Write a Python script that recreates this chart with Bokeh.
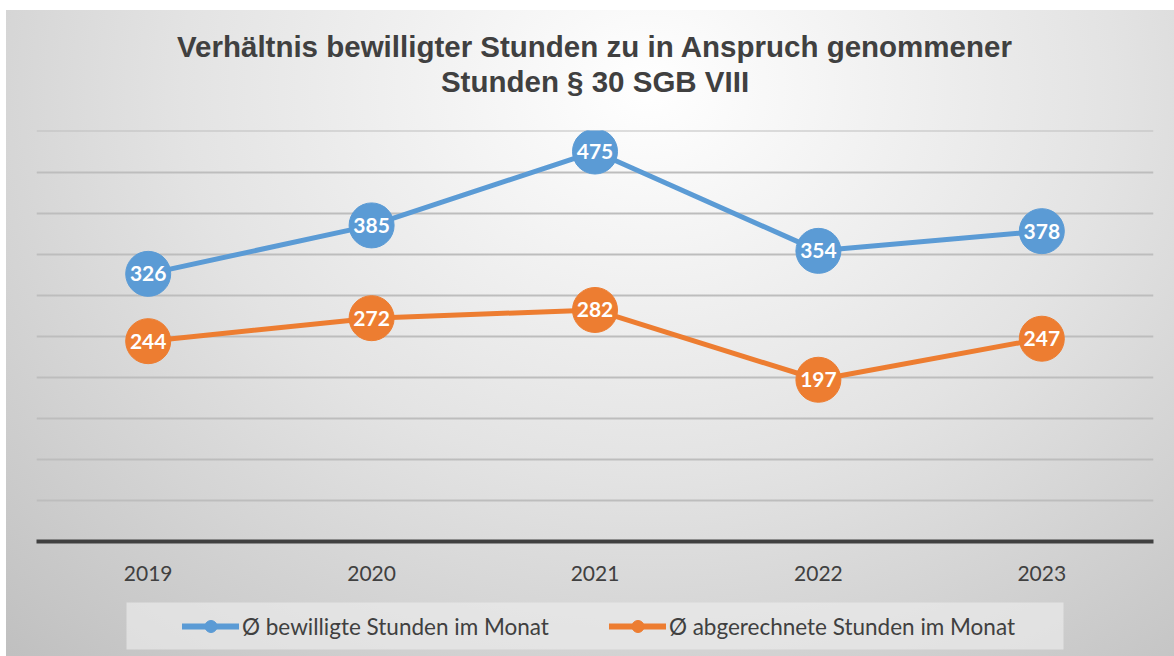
from bokeh.plotting import figure
from bokeh.layouts import column
from bokeh.models import (ColumnDataSource, FactorRange, Title, Legend, LegendItem,
                          SingleIntervalTicker, BoxAnnotation)
from bokeh.core.properties import value
from bokeh.embed import file_html
from bokeh.resources import INLINE

# ---- data ----
years = ["2019", "2020", "2021", "2022", "2023"]
bewilligt = [326, 385, 475, 354, 378]
abgerechnet = [244, 272, 282, 197, 247]
series_names = ["Ø bewilligte Stunden im Monat", "Ø abgerechnete Stunden im Monat"]
title_lines = ["Verhältnis bewilligter Stunden zu in Anspruch genommener", "Stunden § 30 SGB VIII"]

BLUE = "#5B9BD5"
ORANGE = "#ED7D31"
TXT = "#404040"

W = 1174
H1, H2 = 596, 60
L, R, T, B = 36, 21, 130, 55

p = figure(width=W, height=H1, x_range=FactorRange(factors=years, range_padding=0),
           y_range=(0, 500.6), output_backend="svg", toolbar_location=None,
           min_border_left=L, min_border_right=R, min_border_top=T, min_border_bottom=B,
           title=None)
p.background_fill_alpha = 0
p.border_fill_alpha = 0
p.outline_line_color = None

# title: spacer nearest the frame, then line 2, then line 1 on top
tkw = dict(align="center", text_font="Liberation Sans", text_font_size="29.5px",
           text_font_style="bold", text_color=TXT)
p.add_layout(Title(text=" ", text_font_size="10px", standoff=20), "above")
p.add_layout(Title(text=title_lines[1], standoff=0, **tkw), "above")
p.add_layout(Title(text=title_lines[0], standoff=0, **tkw), "above")

# grid / axes
p.yaxis.visible = False
p.ygrid.ticker = SingleIntervalTicker(interval=50)
p.ygrid.grid_line_color = "#bdbdbd"
p.ygrid.grid_line_width = 2
p.xgrid.grid_line_color = None

p.xaxis.axis_line_color = TXT
p.xaxis.axis_line_width = 4
p.xaxis.major_tick_line_color = None
p.xaxis.minor_tick_line_color = None
p.xaxis.major_label_text_font = "Lato"
p.xaxis.major_label_text_font_size = "21px"
p.xaxis.major_label_text_color = TXT
p.xaxis.major_label_standoff = 18

src = ColumnDataSource(dict(x=years, b=bewilligt, a=abgerechnet,
                            bl=[str(v) for v in bewilligt], al=[str(v) for v in abgerechnet]))

p.line("x", "b", source=src, line_color=BLUE, line_width=5)
p.line("x", "a", source=src, line_color=ORANGE, line_width=5)
p.scatter("x", "b", source=src, size=45, fill_color=BLUE, line_color=BLUE)
p.scatter("x", "a", source=src, size=45, fill_color=ORANGE, line_color=ORANGE)
for col in ("bl", "al"):
    p.text("x", col[0], text=col, source=src, text_align="center", text_baseline="middle",
           text_color="white", text_font=value("Lato"), text_font_style="bold",
           text_font_size="21px")

# ---- legend strip (separate figure below) ----
q = figure(width=W, height=H2, output_backend="svg", toolbar_location=None,
           min_border_left=L, min_border_right=R, min_border_top=0, min_border_bottom=0,
           x_range=(0, 1), y_range=(0, 1))
q.axis.visible = False
q.grid.visible = False
q.outline_line_color = None
q.background_fill_alpha = 0
q.border_fill_alpha = 0

q.add_layout(BoxAnnotation(left=126 - L, right=1063 - L, bottom=H2 - 53, top=H2 - 6,
                           left_units="screen", right_units="screen",
                           top_units="screen", bottom_units="screen",
                           fill_color="#ececec", fill_alpha=0.65, line_color=None))

# legend keys: kept outside the visible range so only their legend swatches show
key_x = [-10, -9]
key_y = [-10, -10]
lb = q.line(x=key_x, y=key_y, line_color=BLUE, line_width=6, line_cap="round")
lo = q.line(x=key_x, y=key_y, line_color=ORANGE, line_width=6, line_cap="round")
mb = q.scatter(x=key_x, y=key_y, size=12, fill_color=BLUE, line_color=BLUE)
mo = q.scatter(x=key_x, y=key_y, size=12, fill_color=ORANGE, line_color=ORANGE)

legend = Legend(items=[LegendItem(label=series_names[0], renderers=[lb, mb]),
                       LegendItem(label=series_names[1], renderers=[lo, mo])],
                orientation="horizontal", location=(146, 15),
                glyph_width=57, glyph_height=30, label_standoff=3, spacing=60,
                padding=8, margin=0,
                label_text_font="Lato", label_text_font_size="22.5px",
                label_text_color=TXT,
                background_fill_alpha=0, border_line_color=None)
q.add_layout(legend, "center")

layout = column(p, q, spacing=0)
layout.styles = {
    "background-color": "white",
    "background-image": "radial-gradient(ellipse 80% 120% at 55% 12%, #ffffff 0%, #e3e3e3 50%, #c0c0c0 100%)",
    "background-size": "calc(100% - 6px) calc(100% - 10px)",
    "background-position": "right bottom",
    "background-repeat": "no-repeat",
}

open("out.html", "w").write(file_html(layout, INLINE))
